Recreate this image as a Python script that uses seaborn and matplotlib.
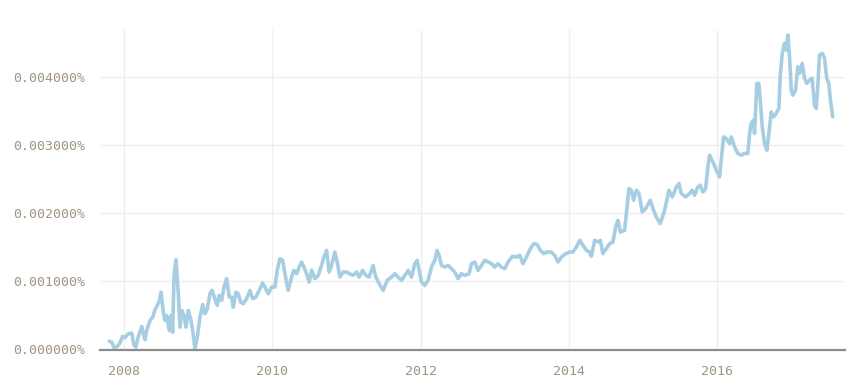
import matplotlib
matplotlib.use("Agg")
import matplotlib.pyplot as plt
import seaborn as sns
import pandas as pd

# decimal year of each observation
years = [
    2007.802, 2007.834, 2007.865, 2007.910, 2007.937, 2007.982, 2008.013, 2008.058, 2008.104, 2008.135,
    2008.162, 2008.193, 2008.239, 2008.260, 2008.283, 2008.306, 2008.350, 2008.387, 2008.418, 2008.449,
    2008.476, 2008.499, 2008.530, 2008.553, 2008.575, 2008.611, 2008.633, 2008.656, 2008.674, 2008.701,
    2008.732, 2008.755, 2008.778, 2008.809, 2008.836, 2008.867, 2008.899, 2008.926, 2008.957, 2008.988,
    2009.024, 2009.061, 2009.092, 2009.123, 2009.159, 2009.186, 2009.226, 2009.257, 2009.284, 2009.317,
    2009.348, 2009.384, 2009.419, 2009.451, 2009.473, 2009.509, 2009.540, 2009.573, 2009.608, 2009.654,
    2009.698, 2009.734, 2009.779, 2009.823, 2009.869, 2009.900, 2009.945, 2009.991, 2010.035, 2010.066,
    2010.102, 2010.139, 2010.170, 2010.214, 2010.260, 2010.291, 2010.328, 2010.363, 2010.395, 2010.426,
    2010.462, 2010.497, 2010.530, 2010.574, 2010.619, 2010.664, 2010.695, 2010.732, 2010.767, 2010.799,
    2010.844, 2010.875, 2010.911, 2010.956, 2011.001, 2011.036, 2011.090, 2011.136, 2011.171, 2011.217,
    2011.262, 2011.306, 2011.360, 2011.396, 2011.441, 2011.495, 2011.549, 2011.608, 2011.652, 2011.697,
    2011.743, 2011.787, 2011.832, 2011.877, 2011.922, 2011.953, 2011.980, 2012.012, 2012.057, 2012.101,
    2012.147, 2012.191, 2012.222, 2012.249, 2012.282, 2012.326, 2012.371, 2012.416, 2012.461, 2012.505,
    2012.551, 2012.596, 2012.654, 2012.686, 2012.730, 2012.775, 2012.821, 2012.865, 2012.910, 2012.956,
    2013.000, 2013.044, 2013.090, 2013.135, 2013.179, 2013.238, 2013.292, 2013.337, 2013.381, 2013.427,
    2013.481, 2013.526, 2013.570, 2013.616, 2013.660, 2013.705, 2013.764, 2013.809, 2013.853, 2013.899,
    2013.957, 2014.011, 2014.055, 2014.101, 2014.146, 2014.190, 2014.236, 2014.280, 2014.303, 2014.348,
    2014.392, 2014.424, 2014.459, 2014.505, 2014.550, 2014.594, 2014.631, 2014.662, 2014.694, 2014.752,
    2014.775, 2014.810, 2014.842, 2014.873, 2014.910, 2014.945, 2014.990, 2015.035, 2015.098, 2015.133,
    2015.179, 2015.233, 2015.291, 2015.349, 2015.395, 2015.449, 2015.484, 2015.516, 2015.574, 2015.628,
    2015.664, 2015.695, 2015.740, 2015.772, 2015.807, 2015.844, 2015.875, 2015.898, 2015.942, 2015.988,
    2016.032, 2016.086, 2016.122, 2016.167, 2016.190, 2016.234, 2016.279, 2016.325, 2016.369, 2016.414,
    2016.437, 2016.459, 2016.491, 2016.504, 2016.535, 2016.562, 2016.581, 2016.608, 2016.639, 2016.670,
    2016.697, 2016.729, 2016.760, 2016.796, 2016.832, 2016.850, 2016.877, 2016.908, 2016.931, 2016.953,
    2016.976, 2016.999, 2017.020, 2017.057, 2017.088, 2017.110, 2017.147, 2017.178, 2017.209, 2017.245,
    2017.281, 2017.313, 2017.336, 2017.357, 2017.380, 2017.417, 2017.448, 2017.478, 2017.505, 2017.528,
    2017.559,
]

# value in percent units (0.001 -> "0.001000%")
values = [
    0.000122, 0.000107, 0.000029, 0.000044, 0.000084, 0.000191, 0.000176, 0.000231, 0.000240, 0.000059,
    0.000034, 0.000191, 0.000338, 0.000240, 0.000143, 0.000279, 0.000426, 0.000475, 0.000584, 0.000647,
    0.000710, 0.000843, 0.000549, 0.000426, 0.000500, 0.000279, 0.000500, 0.000254, 0.001063, 0.001319,
    0.000819, 0.000328, 0.000574, 0.000500, 0.000328, 0.000574, 0.000451, 0.000279, 0.000010, 0.000181,
    0.000475, 0.000662, 0.000525, 0.000599, 0.000819, 0.000868, 0.000746, 0.000647, 0.000794, 0.000721,
    0.000916, 0.001040, 0.000769, 0.000769, 0.000622, 0.000843, 0.000819, 0.000696, 0.000672, 0.000746,
    0.000868, 0.000746, 0.000769, 0.000868, 0.000975, 0.000916, 0.000819, 0.000916, 0.000916, 0.001162,
    0.001334, 0.001309, 0.001113, 0.000868, 0.001063, 0.001162, 0.001113, 0.001210, 0.001284, 0.001210,
    0.001113, 0.000990, 0.001162, 0.001040, 0.001088, 0.001235, 0.001357, 0.001456, 0.001137, 0.001235,
    0.001431, 0.001284, 0.001063, 0.001137, 0.001137, 0.001113, 0.001088, 0.001137, 0.001063, 0.001162,
    0.001088, 0.001063, 0.001235, 0.001063, 0.000966, 0.000868, 0.001015, 0.001063, 0.001113, 0.001063,
    0.001015, 0.001088, 0.001162, 0.001063, 0.001260, 0.001309, 0.001162, 0.000990, 0.000941, 0.001015,
    0.001210, 0.001309, 0.001456, 0.001382, 0.001235, 0.001210, 0.001235, 0.001187, 0.001137, 0.001040,
    0.001113, 0.001088, 0.001113, 0.001260, 0.001284, 0.001162, 0.001235, 0.001309, 0.001284, 0.001260,
    0.001210, 0.001260, 0.001210, 0.001187, 0.001284, 0.001368, 0.001357, 0.001382, 0.001260, 0.001357,
    0.001481, 0.001554, 0.001544, 0.001456, 0.001407, 0.001431, 0.001431, 0.001382, 0.001284, 0.001357,
    0.001407, 0.001431, 0.001431, 0.001504, 0.001603, 0.001529, 0.001456, 0.001431, 0.001368, 0.001603,
    0.001578, 0.001603, 0.001407, 0.001481, 0.001554, 0.001578, 0.001799, 0.001897, 0.001725, 0.001750,
    0.001996, 0.002363, 0.002338, 0.002191, 0.002338, 0.002290, 0.002019, 0.002069, 0.002191, 0.002069,
    0.001946, 0.001849, 0.002044, 0.002338, 0.002240, 0.002387, 0.002437, 0.002290, 0.002240, 0.002290,
    0.002338, 0.002265, 0.002387, 0.002412, 0.002313, 0.002363, 0.002681, 0.002853, 0.002754, 0.002632,
    0.002534, 0.003122, 0.003098, 0.003025, 0.003122, 0.002975, 0.002878, 0.002853, 0.002878, 0.002878,
    0.003172, 0.003319, 0.003368, 0.003172, 0.003907, 0.003907, 0.003662, 0.003269, 0.003025, 0.002926,
    0.003172, 0.003490, 0.003416, 0.003466, 0.003540, 0.004004, 0.004348, 0.004496, 0.004397, 0.004618,
    0.004299, 0.003809, 0.003735, 0.003809, 0.004151, 0.004054, 0.004201, 0.003981, 0.003907, 0.003956,
    0.003981, 0.003588, 0.003540, 0.003857, 0.004324, 0.004348, 0.004275, 0.003981, 0.003907, 0.003662,
    0.003416,
]

x_ticks = [2008, 2010, 2012, 2014, 2016]
x_tick_labels = ["2008", "2010", "2012", "2014", "2016"]
y_ticks = [0.0, 0.001, 0.002, 0.003, 0.004]
y_tick_labels = [f"{v:.6f}%" for v in y_ticks]

df = pd.DataFrame({"year": years, "value": values})

sns.set_style("white")
plt.rcParams["font.family"] = ["DejaVu Sans Mono", "DejaVu Sans"]

fig = plt.figure(figsize=(8.64, 3.9), dpi=100)
ax = fig.add_axes([100 / 864, 40.5 / 390, 745 / 864, 319.5 / 390])

sns.lineplot(data=df, x="year", y="value", ax=ax, color="#a6cee3",
             linewidth=2.6, estimator=None, sort=False)

ax.set_xlim(2007.676, 2017.724)
ax.set_ylim(0, 0.004691)
ax.set_xticks(x_ticks)
ax.set_xticklabels(x_tick_labels)
ax.set_yticks(y_ticks)
ax.set_yticklabels(y_tick_labels)
ax.set_xlabel("")
ax.set_ylabel("")

grid_color = "#efefef"
ax.grid(True, color=grid_color, linewidth=1.0)
ax.set_axisbelow(True)
for side in ["top", "right", "left"]:
    ax.spines[side].set_visible(False)
ax.spines["bottom"].set_color("#8c8c8c")
ax.spines["bottom"].set_linewidth(1.6)
ax.spines["bottom"].set_zorder(5)

label_color = "#a09484"
ax.tick_params(axis="x", length=7, width=1.0, color=grid_color, pad=4,
               labelsize=9.5, labelcolor=label_color)
ax.tick_params(axis="y", length=0, pad=11, labelsize=9.5, labelcolor=label_color)

fig.savefig("out.png", dpi=100)
